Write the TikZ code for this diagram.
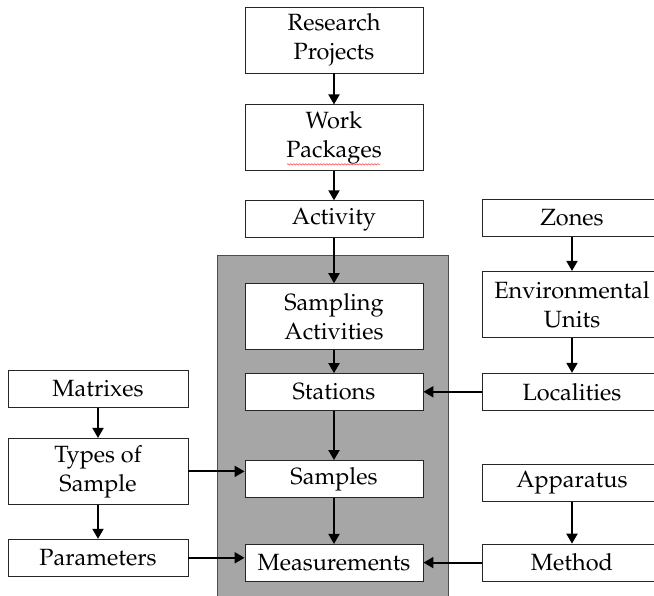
\documentclass[tikz,border=0pt]{standalone}
\usepackage[T1]{fontenc}
\usepackage{mathpazo}
\usepackage{tikz}
\usetikzlibrary{arrows.meta, positioning, calc, decorations.pathmorphing}

\begin{document}
\begin{tikzpicture}[x=1pt, y=-1pt,
  box/.style={draw=black!85, fill=white, line width=0.9pt,
              minimum width=178pt, minimum height=37pt, align=center,
              inner sep=2pt, font=\fontsize{23.5}{29}\selectfont},
  tallbox/.style={box, minimum height=66pt},
  arr/.style={-{Triangle[length=10pt, width=11pt]}, line width=1.9pt},
  panel/.style={draw=black!70, fill=black!35, line width=0.9pt}
]
\useasboundingbox (0,0) rectangle (654,596);

% grey block
\draw[panel] (217,255) rectangle (448,610);

% centre column
\node[tallbox] (proj) at (334,40) {Research\\Projects};
\node[tallbox, below=31pt of proj] (work) {Work\\Packages};
\node[box, below=29pt of work] (act) {Activity};
\node[tallbox, below=45pt of act] (sampact) {Sampling\\Activities};
\node[box, below=23pt of sampact] (stat) {Stations};
\node[box, below=49pt of stat] (samp) {Samples};
\node[box, below=46pt of samp] (meas) {Measurements};

% left column
\node[box, minimum width=180pt] (matr) at (98,389) {Matrixes};
\node[tallbox, minimum width=180pt, below=30pt of matr] (types) {Types of\\Sample};
\node[box, minimum width=180pt, below=34pt of types] (param) {Parameters};

% right column
\node[box, minimum width=180pt] (zones) at (572,218) {Zones};
\node[tallbox, minimum width=180pt, below=34pt of zones] (env) {Environmental\\Units};
\node[box, minimum width=180pt, below=35pt of env] (loc) {Localities};
\node[box, minimum width=180pt, below=53pt of loc] (app) {Apparatus};
\node[box, minimum width=180pt, below=42pt of app] (meth) {Method};

% spell-check mark
\draw[red!80, line width=0.5pt, decorate,
      decoration={snake, amplitude=0.7pt, segment length=3pt}]
  ($(work.south)+(-47,-7)$) -- ($(work.south)+(46,-7)$);

% connectors
\draw[arr] (proj) -- (work);
\draw[arr] (work) -- (act);
\draw[arr] (act) -- (sampact);
\draw[arr] (sampact) -- (stat);
\draw[arr] (stat) -- (samp);
\draw[arr] (samp) -- (meas);
\draw[arr] (matr) -- (types);
\draw[arr] (types) -- (param);
\draw[arr] (zones) -- (env);
\draw[arr] (env) -- (loc);
\draw[arr] (app) -- (meth);
\draw[arr] (types.east) -- (samp.west |- types.east);
\draw[arr] (param.east) -- (meas.west |- param.east);
\draw[arr] (loc.west) -- (stat.east |- loc.west);
\draw[arr] (meth.west) -- (meas.east |- meth.west);
\end{tikzpicture}
\end{document}
